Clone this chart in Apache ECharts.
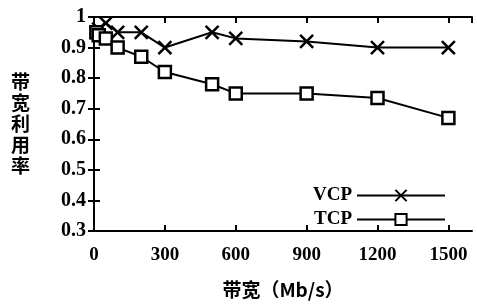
<!DOCTYPE html>
<html>
<head>
<meta charset="utf-8">
<script src="https://cdn.jsdelivr.net/npm/echarts@6/dist/echarts.min.js"></script>
<style>
  html, body { margin: 0; padding: 0; background: #fff; }
  #chart { width: 477px; height: 304px; }
</style>
</head>
<body>
<div id="chart"></div>
<script>
// bandwidth (Mb/s)
const vcpX = [10, 20, 50, 100, 200, 300, 500, 600, 900, 1200, 1500];
const vcpY = [0.95, 0.96, 0.98, 0.95, 0.95, 0.90, 0.95, 0.93, 0.92, 0.90, 0.90];
const tcpX = [10, 20, 50, 100, 200, 300, 500, 600, 900, 1200, 1500];
const tcpY = [0.95, 0.94, 0.93, 0.90, 0.87, 0.82, 0.78, 0.75, 0.75, 0.735, 0.67];
const xTicks = [0, 300, 600, 900, 1200, 1500];

let myChart = echarts.init(document.getElementById("chart"));
const serif = "Liberation Serif";
const cjk = "Noto Sans CJK SC";
const xMark = "path://M0,0L10,10M10,0L0,10";

let axisLineStyle = { color: "#000", width: 2 };
let tickStyle = { inside: true, length: 6, lineStyle: { color: "#000", width: 2 } };
let option = {
  animation: false,
  grid: { left: 94, right: 5, top: 17, bottom: 67 },
  legend: {
    right: 26,
    top: 181,
    orient: "vertical",
    align: "right",
    itemWidth: 88,
    itemHeight: 14,
    itemGap: 5,
    textStyle: { fontFamily: serif, fontSize: 19, fontWeight: "bold", color: "#000" },
    data: ["VCP", "TCP"]
  },
  xAxis: [
    {
      type: "value",
      min: 0,
      max: 1600,
      interval: 300,
      name: "带宽（Mb/s）",
      nameLocation: "middle",
      nameGap: 49,
      nameTextStyle: { fontFamily: cjk, fontSize: 19, fontWeight: "bold", color: "#000" },
      axisLine: { lineStyle: axisLineStyle },
      axisTick: tickStyle,
      axisLabel: {
        fontFamily: serif, fontSize: 19, fontWeight: "bold", color: "#000", margin: 15,
        showMaxLabel: false,
        formatter: v => (xTicks.indexOf(v) >= 0 ? String(v) : "")
      },
      splitLine: { show: false }
    },
    {
      type: "value",
      position: "top",
      min: 0,
      max: 1600,
      interval: 300,
      axisLine: { lineStyle: axisLineStyle },
      axisTick: tickStyle,
      axisLabel: { show: false },
      splitLine: { show: false }
    }
  ],
  yAxis: [
    {
      type: "value",
      min: 0.3,
      max: 1,
      interval: 0.1,
      name: "带\n宽\n利\n用\n率",
      nameLocation: "middle",
      nameRotate: 0,
      nameGap: 64,
      nameTextStyle: { fontFamily: cjk, fontSize: 19, fontWeight: "bold", color: "#000", lineHeight: 21 },
      axisLine: { lineStyle: axisLineStyle },
      axisTick: tickStyle,
      axisLabel: {
        fontFamily: serif, fontSize: 20, fontWeight: "bold", color: "#000", margin: 8,
        padding: [7, 0, 0, 0],
        formatter: v => (v === 1 ? "1" : v.toFixed(1))
      },
      splitLine: { show: false }
    },
    {
      type: "value",
      position: "right",
      min: 0.3,
      max: 1,
      interval: 0.1,
      axisLine: { lineStyle: axisLineStyle },
      axisTick: tickStyle,
      axisLabel: { show: false },
      splitLine: { show: false }
    }
  ],
  series: [
    {
      name: "VCP",
      type: "line",
      data: vcpX.map((x, i) => [x, vcpY[i]]),
      symbol: xMark,
      symbolSize: 13,
      color: "#000",
      lineStyle: { color: "#000", width: 2 },
      itemStyle: { color: "none", borderColor: "#000", borderWidth: 2.5 }
    },
    {
      name: "TCP",
      type: "line",
      data: tcpX.map((x, i) => [x, tcpY[i]]),
      symbol: "rect",
      symbolSize: 12,
      color: "#000",
      lineStyle: { color: "#000", width: 2 },
      itemStyle: { color: "#fff", borderColor: "#000", borderWidth: 2.5 }
    }
  ]
};
myChart.setOption(option);
window.addEventListener("resize", function() {
  myChart.resize();
});
</script>
</body>
</html>
